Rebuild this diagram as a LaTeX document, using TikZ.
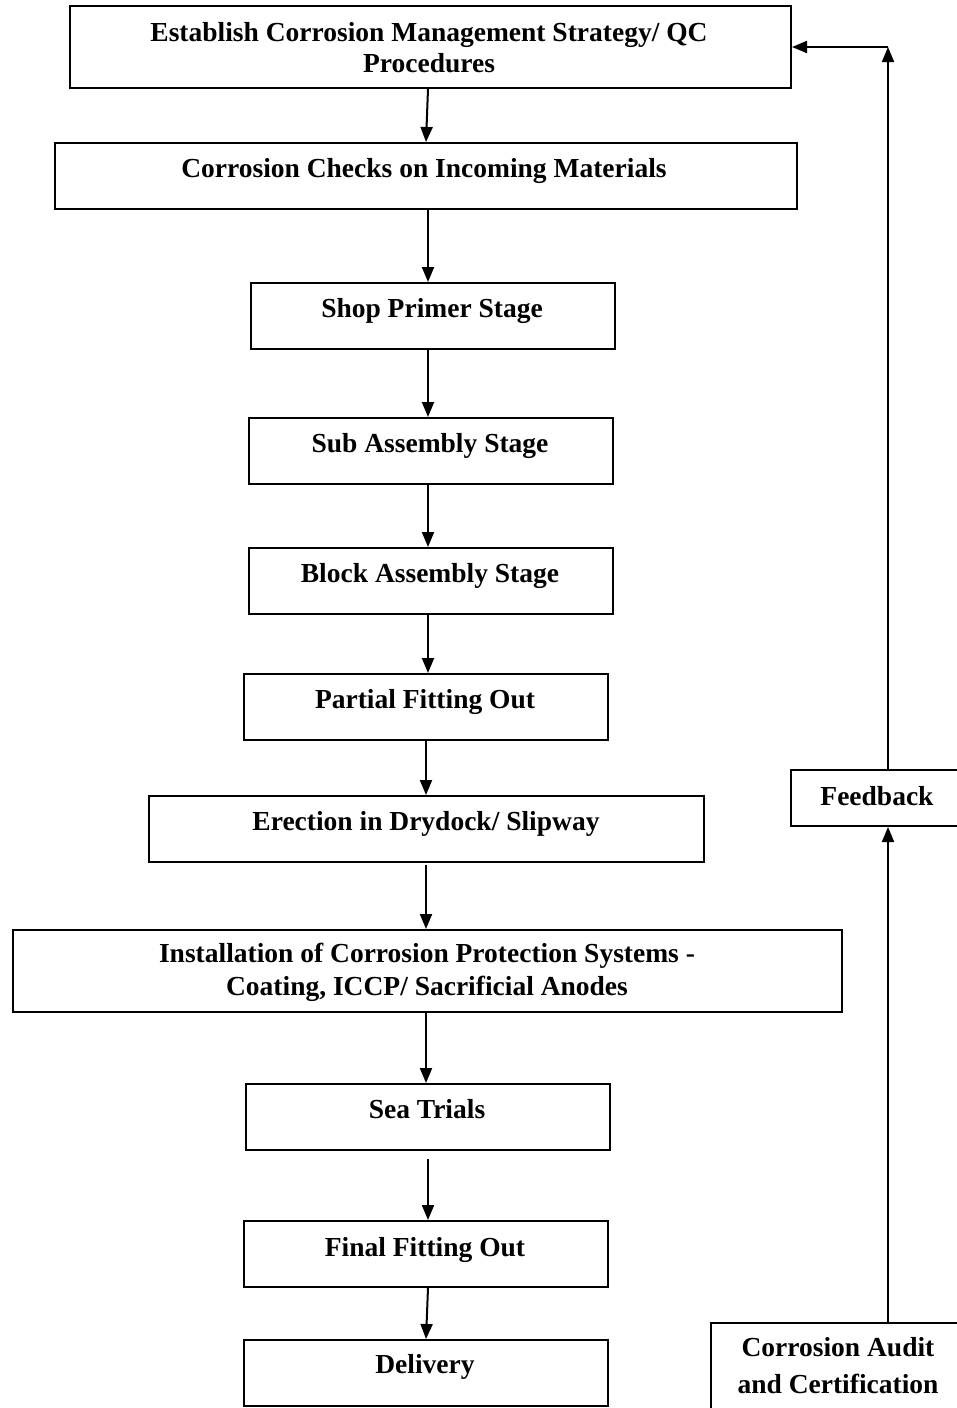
\documentclass[tikz,border=0pt]{standalone}
\usepackage{fontspec}
\setmainfont{Liberation Serif}
\usetikzlibrary{arrows.meta}
\begin{document}
\begin{tikzpicture}[x=1pt,y=-1pt,
  box/.style={draw=black, line width=2pt, inner sep=0pt, anchor=north west},
  txt/.style={inner sep=0pt, anchor=base, align=center,
    font=\fontsize{27.5}{31}\selectfont\bfseries},
  arr/.style={draw=black, line width=2pt, -{Triangle[length=15pt,width=12pt]}}]
\useasboundingbox (0,0) rectangle (957,1408);
\clip (0,0) rectangle (957,1408);

% process boxes
\node[box, minimum width=721pt, minimum height=82pt] (b1) at (69,5) {};
\node[box, minimum width=742pt, minimum height=66pt] (b2) at (54,142) {};
\node[box, minimum width=364pt, minimum height=66pt] (b3) at (250,282) {};
\node[box, minimum width=364pt, minimum height=66pt] (b4) at (248,417) {};
\node[box, minimum width=364pt, minimum height=66pt] (b5) at (248,547) {};
\node[box, minimum width=364pt, minimum height=66pt] (b6) at (243,673) {};
\node[box, minimum width=555pt, minimum height=66pt] (b7) at (148,795) {};
\node[box, minimum width=829pt, minimum height=82pt] (b8) at (12,929) {};
\node[box, minimum width=364pt, minimum height=66pt] (b9) at (245,1083) {};
\node[box, minimum width=364pt, minimum height=66pt] (b10) at (243,1220) {};
\node[box, minimum width=364pt, minimum height=66pt] (b11) at (243,1339) {};
\node[box, minimum width=174pt, minimum height=56pt] (b12) at (790,769) {};
\node[box, minimum width=256pt, minimum height=103pt] (b13) at (710,1322) {};

% labels (multi-line labels are placed by their last baseline)
\node[txt] (t1) at (429,72) {Establish Corrosion Management Strategy/ QC\\Procedures};
\node[txt] (t2) at (424,177) {Corrosion Checks on Incoming Materials};
\node[txt] (t3) at (432,317) {Shop Primer Stage};
\node[txt] (t4) at (430,452) {Sub Assembly Stage};
\node[txt] (t5) at (430,582) {Block Assembly Stage};
\node[txt] (t6) at (425,708) {Partial Fitting Out};
\node[txt] (t7) at (426,830) {Erection in Drydock/ Slipway};
\node[txt, font=\fontsize{27.5}{33}\selectfont\bfseries] (t8) at (427,995) {Installation of Corrosion Protection Systems -\\Coating, ICCP/ Sacrificial Anodes};
\node[txt] (t9) at (427,1118) {Sea Trials};
\node[txt] (t10) at (425,1256) {Final Fitting Out};
\node[txt] (t11) at (425,1373) {Delivery};
\node[txt] (t12) at (877,805) {Feedback};
\node[txt, font=\fontsize{27.5}{37}\selectfont\bfseries] (t13) at (838,1393) {Corrosion Audit\\and Certification};

% main flow
\draw[arr] ([xshift=359pt]b1.south west) -- ([xshift=372pt]b2.north west);
\draw[arr] ([xshift=374pt]b2.south west) -- ([xshift=178pt]b3.north west);
\draw[arr] ([xshift=178pt]b3.south west) -- ([xshift=180pt]b4.north west);
\draw[arr] ([xshift=180pt]b4.south west) -- ([xshift=180pt]b5.north west);
\draw[arr] ([xshift=180pt]b5.south west) -- ([xshift=185pt]b6.north west);
\draw[arr] ([xshift=183pt]b6.south west) -- ([xshift=278pt]b7.north west);
\draw[arr] ([xshift=278pt,yshift=-2pt]b7.south west) -- ([xshift=414pt]b8.north west);
\draw[arr] ([xshift=414pt]b8.south west) -- ([xshift=181pt]b9.north west);
\draw[arr] ([xshift=183pt,yshift=-8pt]b9.south west) -- ([xshift=185pt]b10.north west);
\draw[arr] ([xshift=185pt]b10.south west) -- ([xshift=183pt]b11.north west);

% feedback loop
\draw[arr] ([xshift=178pt]b13.north west) -- ([xshift=98pt]b12.south west);
\coordinate (fbtop) at ([xshift=98pt]b12.north west);
\coordinate (corner) at (fbtop |- b1.east);
\draw[arr] (fbtop) -- (corner);
\draw[arr] (corner) -- (b1.east);
\end{tikzpicture}
\end{document}
